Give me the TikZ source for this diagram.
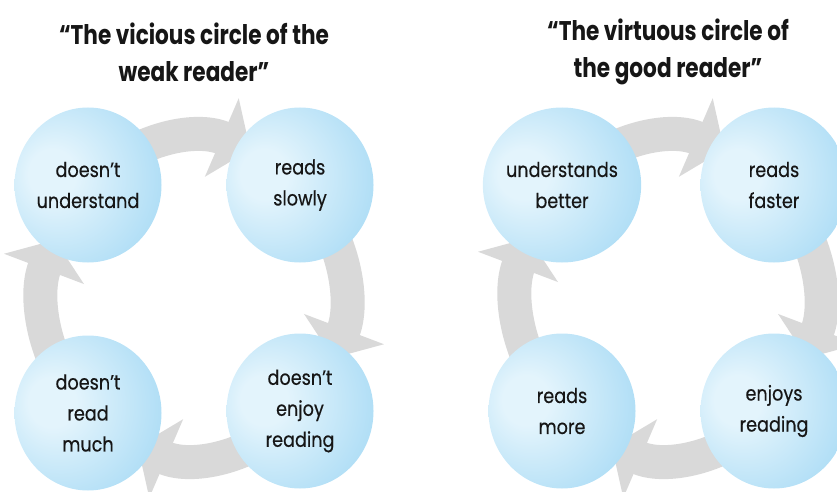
\documentclass[tikz,border=0pt]{standalone}
\usepackage{fontspec}
\setmainfont{Poppins}[FakeStretch=0.86, FakeBold=0.4]
\newfontfamily\headfont{Poppins}[FakeStretch=0.8]
\usetikzlibrary{shapes.geometric, arrows.meta, backgrounds, positioning}

\definecolor{bubhi}{HTML}{E3F4FC}
\definecolor{bubmid}{HTML}{A9DBF5}
\definecolor{bubedge}{HTML}{55BBEC}
\definecolor{arrgray}{HTML}{D9D9D9}
\definecolor{ink}{HTML}{161616}
\pgfdeclareradialshading{bubble}{\pgfpoint{-14bp}{4bp}}{color(0bp)=(bubhi); color(8bp)=(bubhi); color(36bp)=(bubmid); color(64bp)=(bubedge)}

\begin{document}
\begin{tikzpicture}[x=1pt, y=1pt,
	bubble/.style={ellipse, shade, shading=bubble, minimum width=147pt, minimum height=155pt, inner sep=0pt, align=center, text=ink, font=\fontsize{20.5}{31}\selectfont},
	title/.style={align=center, text=ink, font=\headfont\fontsize{27}{37}\selectfont\bfseries},
	turn/.style={draw=arrgray, line width=34pt, -{Triangle[width=84pt, length=31pt]}}
	]
	\useasboundingbox (0,0) rectangle (837,491);
	\clip (0,0) rectangle (837,491);
	
	% weak reader
	\node[title] (wtitle) at (194,439) {“The vicious circle of the\\weak reader”};
	\node[bubble] (wund) at (88,306) {doesn’t\\understand};
	\node[bubble] (wslow) at (300,306) {reads\\slowly};
	\node[bubble] (wenj) at (300,80) {doesn’t\\enjoy\\reading};
	\node[bubble] (wmuch) at (88,78) {doesn’t\\read\\much};
	
	% good reader
	\node[title] (gtitle) at (668,439) {“The virtuous circle of\\the good reader”};
	\node[bubble] (gund) at (562,306) {understands\\better};
	\node[bubble] (gfast) at (774,306) {reads\\faster};
	\node[bubble] (genj) at (774,80) {enjoys\\reading};
	\node[bubble] (gmore) at (562,80) {reads\\more};
	
	% arrows behind
	\begin{scope}[on background layer]
		\draw[turn] (wund.center) arc[start angle=135, end angle=68, x radius=150pt, y radius=160pt];
		\draw[turn] (wslow.center) arc[start angle=45, end angle=-22, x radius=150pt, y radius=160pt];
		\draw[turn] (wenj.center) arc[start angle=-45, end angle=-112, x radius=150pt, y radius=160pt];
		\draw[turn] (wmuch.center) arc[start angle=225, end angle=158, x radius=150pt, y radius=160pt];
		
		\draw[turn] (gund.center) arc[start angle=135, end angle=68, x radius=150pt, y radius=160pt];
		\draw[turn] (gfast.center) arc[start angle=45, end angle=-22, x radius=150pt, y radius=160pt];
		\draw[turn] (genj.center) arc[start angle=-45, end angle=-112, x radius=150pt, y radius=160pt];
		\draw[turn] (gmore.center) arc[start angle=225, end angle=158, x radius=150pt, y radius=160pt];
	\end{scope}
\end{tikzpicture}
\end{document}
